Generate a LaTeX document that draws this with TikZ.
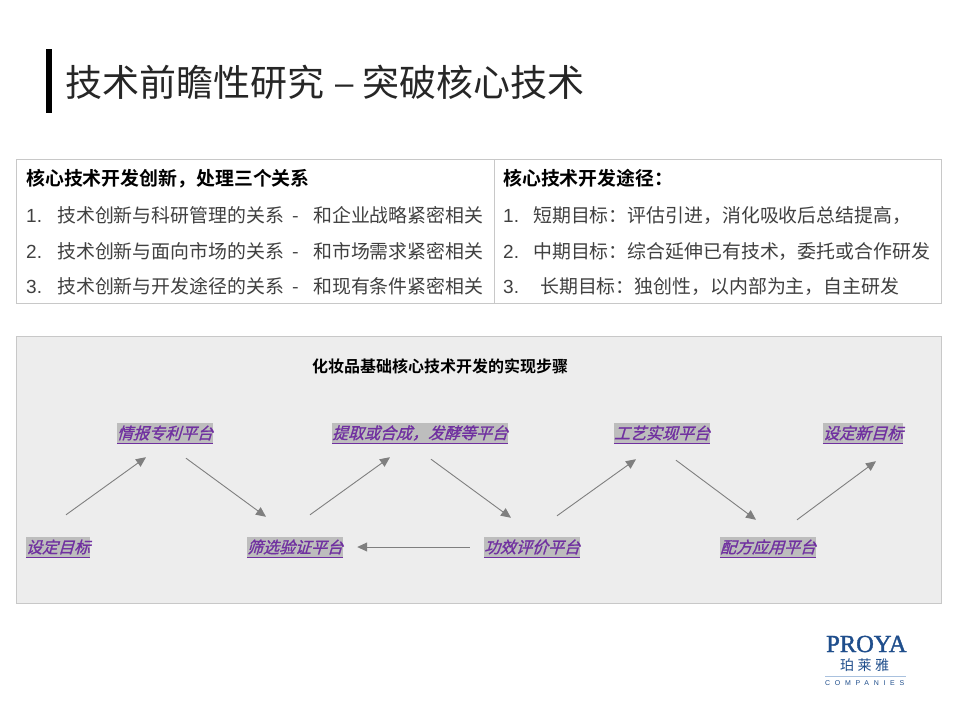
\documentclass[tikz,border=0pt]{standalone}
\usepackage{fontspec}
\setmainfont{Liberation Sans}
\newfontfamily\cjk{Noto Sans CJK SC}
\newfontfamily\cjkbold{Noto Sans CJK SC Bold}
\newfontfamily\cjkslant[FakeSlant=0.3,FakeBold=1.2]{Noto Sans CJK SC}
\newfontfamily\cjkspaced[LetterSpace=25]{Noto Sans CJK SC}
\newfontfamily\logoserif[FakeBold=1.5]{Liberation Serif}
\newfontfamily\logosans[LetterSpace=67]{Liberation Sans}
\usetikzlibrary{calc,arrows.meta}
\definecolor{titleink}{HTML}{262626}
\definecolor{bodyink}{HTML}{404040}
\definecolor{rulegray}{HTML}{C8C8C8}
\definecolor{panelgray}{HTML}{EDEDED}
\definecolor{markgray}{HTML}{BDBDBD}
\definecolor{linkpurple}{HTML}{7030A0}
\definecolor{arrowgray}{HTML}{7F7F7F}
\definecolor{brandblue}{HTML}{1F4E8C}
\definecolor{brandline}{HTML}{A9C1DE}
\tikzset{
  x=1pt,y=-1pt,
  titletext/.style={anchor=base west,inner sep=0pt,text=titleink,font=\cjk\fontsize{37}{37}\selectfont},
  headtext/.style={anchor=base west,inner sep=0pt,text=black,font=\cjkbold\fontsize{18.9}{19}\selectfont},
  rowtext/.style={anchor=base west,inner sep=0pt,text=bodyink,font=\cjk\fontsize{18.9}{19}\selectfont},
  numtext/.style={anchor=base west,inner sep=0pt,text=bodyink,font=\fontsize{19}{19}\selectfont},
  steptitle/.style={inner sep=0pt,text=black,font=\cjkbold\fontsize{16}{16}\selectfont},
  platform/.style={fill=markgray,inner xsep=0pt,inner ysep=0pt,minimum height=20pt,
    text=linkpurple,font=\cjkslant\fontsize{16}{16}\selectfont,
    append after command={(\tikzlastnode.south west) edge[draw=linkpurple,line width=1pt] (\tikzlastnode.south east)}},
  flow/.style={draw=arrowgray,line width=0.9pt,-{Triangle[length=10pt,width=9pt]}},
  frameline/.style={draw=rulegray,line width=0.8pt},
}
\begin{document}
\begin{tikzpicture}
\useasboundingbox[fill=white] (0,0) rectangle (960,720);

% heading
\fill[black] (46,49) rectangle (52,113);
\node[titletext] (title) at (65,96) {技术前瞻性研究};
\node[titletext,font=\fontsize{33}{33}\selectfont] (titledash) at (335,94) {–};
\node[titletext] (titleb) at (362,96) {突破核心技术};

% two-column table
\draw[frameline] (16,159) rectangle (941,303);
\draw[frameline] (494,159) -- (494,303);

\node[headtext] (lhead) at (26,185) {核心技术开发创新，处理三个关系};
\node[numtext] (ln1) at (26,222) {1.};
\node[rowtext] (lt1) at (57,222) {技术创新与科研管理的关系};
\node[rowtext] (ld1) at (292,222) {-};
\node[rowtext] (lr1) at (313,222) {和企业战略紧密相关};
\node[numtext] (ln2) at (26,258) {2.};
\node[rowtext] (lt2) at (57,258) {技术创新与面向市场的关系};
\node[rowtext] (ld2) at (292,258) {-};
\node[rowtext] (lr2) at (313,258) {和市场需求紧密相关};
\node[numtext] (ln3) at (26,293) {3.};
\node[rowtext] (lt3) at (57,293) {技术创新与开发途径的关系};
\node[rowtext] (ld3) at (292,293) {-};
\node[rowtext] (lr3) at (313,293) {和现有条件紧密相关};

\node[headtext] (rhead) at (503,185) {核心技术开发途径：};
\node[numtext] (rn1) at (503,222) {1.};
\node[rowtext] (rt1) at (533,222) {短期目标：评估引进，消化吸收后总结提高，};
\node[numtext] (rn2) at (503,258) {2.};
\node[rowtext] (rt2) at (533,258) {中期目标：综合延伸已有技术，委托或合作研发};
\node[numtext] (rn3) at (503,293) {3.};
\node[rowtext] (rt3) at (540,293) {长期目标：独创性，以内部为主，自主研发};

% process panel
\draw[frameline,fill=panelgray] (16,336) rectangle (941,603);
\node[steptitle] (steps) at (440,366) {化妆品基础核心技术开发的实现步骤};

\node[platform] (goal) at (58,547) {设定目标};
\node[platform] (patent) at (165,433) {情报专利平台};
\node[platform] (screen) at (295,547) {筛选验证平台};
\node[platform] (extract) at (420,433) {提取或合成，发酵等平台};
\node[platform] (efficacy) at (532,547) {功效评价平台};
\node[platform] (craft) at (662,433) {工艺实现平台};
\node[platform] (formula) at (768,547) {配方应用平台};
\node[platform] (newgoal) at (863,433) {设定新目标};

\draw[flow] ($(goal.north)+(8,-22)$) -- ($(patent.south)+(-19,14)$);
\draw[flow] ($(patent.south)+(21,15)$) -- ($(screen.north)+(-29,-20)$);
\draw[flow] ($(screen.north)+(15,-22)$) -- ($(extract.south)+(-30,14)$);
\draw[flow] ($(extract.south)+(11,16)$) -- ($(efficacy.north)+(-21,-19)$);
\draw[flow] ($(efficacy.west)+(-14,0)$) -- ($(screen.east)+(14,0)$);
\draw[flow] ($(efficacy.north)+(25,-21)$) -- ($(craft.south)+(-26,16)$);
\draw[flow] ($(craft.south)+(14,17)$) -- ($(formula.north)+(-12,-17)$);
\draw[flow] ($(formula.north)+(29,-17)$) -- ($(newgoal.south)+(13,18)$);

% company mark
\node[anchor=base west,inner sep=0pt,text=brandblue,font=\logoserif\fontsize{24.5}{25}\selectfont] (brand) at (826,652) {PROYA};
\node[anchor=base west,inner sep=0pt,text=brandblue,font=\cjkspaced\fontsize{14}{14}\selectfont] (brandcn) at (840,670.5) {珀莱雅};
\draw[draw=brandline,line width=0.8pt] (825,676) -- (906,676);
\node[anchor=base west,inner sep=0pt,text=brandblue,font=\logosans\fontsize{7}{7}\selectfont] (brandsub) at (825,685) {COMPANIES};
\end{tikzpicture}
\end{document}
